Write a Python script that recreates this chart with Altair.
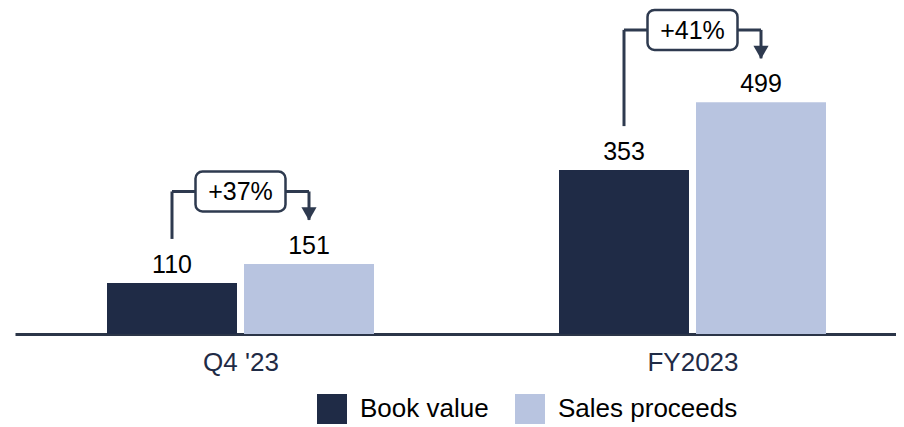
import altair as alt
import pandas as pd

# ---- data ----
categories = ["Q4 '23", "FY2023"]
series = ["Book value", "Sales proceeds"]
book_value = [110, 353]
sales_proceeds = [151, 499]
changes = ["+37%", "+41%"]

# ---- layout / style constants ----
DARK = "#1f2b46"
LIGHT = "#b8c4e0"
LINE = "#2e3a4f"
FONT = "Liberation Sans"
PLOT_W = 881
PX_X = 452.0              # pixels per category unit
PX_Y = 325.0 / 700.0      # pixels per value unit
X_LEFT = -225.5 / PX_X
half_bar = 65 / PX_X
offset = 68.5 / PX_X
start_gap = 44 / PX_Y     # gap above label for bracket start / arrow tip
level_gap = 156           # bracket level above the taller bar (value units)
box_hw = 45 / PX_X
box_hh = 20 / PX_Y

rows = []
for i, c in enumerate(categories):
    for s, v, sign in ((series[0], book_value[i], -1), (series[1], sales_proceeds[i], 1)):
        xc = i + sign * offset
        rows.append({"cat": c, "series": s, "value": v, "xc": xc,
                     "x0": xc - half_bar, "x1": xc + half_bar})
bars_df = pd.DataFrame(rows)

ann_rows = []
for i, c in enumerate(categories):
    b, s = book_value[i], sales_proceeds[i]
    lvl = max(b, s) + level_gap
    ann_rows.append({
        "cat": c, "label": changes[i],
        "xl": i - offset, "xr": i + offset, "xm": i,
        "ystart": b + start_gap, "level": lvl, "tip": s + start_gap,
        "bx0": i - box_hw, "bx1": i + box_hw,
        "by0": lvl - box_hh, "by1": lvl + box_hh,
    })
ann_df = pd.DataFrame(ann_rows)

xscale = alt.Scale(domain=[X_LEFT, X_LEFT + PLOT_W / PX_X], nice=False, zero=False)
yscale = alt.Scale(domain=[0, 700], nice=False)

label_expr = " : ".join(
    [f"datum.value == {i} ? \"{c}\"" for i, c in enumerate(categories)]) + " : ''"

bars = alt.Chart(bars_df).mark_bar().encode(
    x=alt.X("x0:Q", scale=xscale,
            axis=alt.Axis(values=list(range(len(categories))), labelExpr=label_expr,
                          title=None, ticks=False, grid=False, domain=True,
                          domainColor="#2b3548", domainWidth=3,
                          labelFontSize=26, labelColor=DARK, labelFont=FONT,
                          labelPadding=15)),
    x2="x1:Q",
    y=alt.Y("value:Q", scale=yscale, axis=None),
    y2=alt.datum(0),
    color=alt.Color("series:N",
                    scale=alt.Scale(domain=series, range=[DARK, LIGHT]),
                    legend=alt.Legend(title=None, orient="none", direction="horizontal",
                                      legendX=302, legendY=385, symbolType="square",
                                      symbolSize=900, symbolStrokeWidth=0,
                                      labelFontSize=26, labelFont=FONT, labelLimit=0,
                                      labelColor="#000000", labelOffset=13,
                                      columnPadding=26, padding=0)),
)

values_text = alt.Chart(bars_df).mark_text(
    fontSize=25, font=FONT, color="#000000", baseline="alphabetic", dy=-10
).encode(x=alt.X("xc:Q", scale=xscale), y=alt.Y("value:Q", scale=yscale), text="value:Q")

rule_style = dict(color=LINE, strokeWidth=3)
left_v = alt.Chart(ann_df).mark_rule(**rule_style).encode(
    x=alt.X("xl:Q", scale=xscale), y=alt.Y("ystart:Q", scale=yscale), y2="level:Q")
horiz = alt.Chart(ann_df).mark_rule(**rule_style).encode(
    x=alt.X("xl:Q", scale=xscale), x2="xr:Q", y=alt.Y("level:Q", scale=yscale))
right_v = alt.Chart(ann_df).mark_rule(**rule_style).encode(
    x=alt.X("xr:Q", scale=xscale), y=alt.Y("level:Q", scale=yscale), y2="tip:Q")
arrow = alt.Chart(ann_df).mark_point(
    shape="triangle-down", size=230, filled=True, color=LINE, opacity=1, yOffset=-6
).encode(x=alt.X("xr:Q", scale=xscale), y=alt.Y("tip:Q", scale=yscale))
box = alt.Chart(ann_df).mark_rect(
    fill="white", stroke=LINE, strokeWidth=2.5, cornerRadius=7
).encode(x=alt.X("bx0:Q", scale=xscale), x2="bx1:Q",
         y=alt.Y("by0:Q", scale=yscale), y2="by1:Q")
box_text = alt.Chart(ann_df).mark_text(
    fontSize=25, font=FONT, color="#000000", baseline="middle", dy=1
).encode(x=alt.X("xm:Q", scale=xscale), y=alt.Y("level:Q", scale=yscale), text="label:N")

chart = alt.layer(bars, values_text, left_v, horiz, right_v, arrow, box, box_text).properties(
    width=PLOT_W, height=325, background="white",
    padding={"left": 7, "right": 0, "top": 0, "bottom": 0}
).configure_view(stroke=None)

chart.save("out.html", embed_options={"renderer": "svg", "actions": False})
